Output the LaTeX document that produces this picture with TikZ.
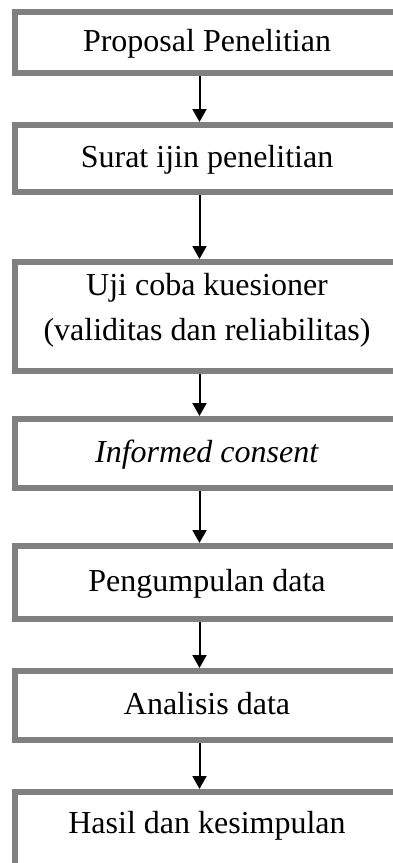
\documentclass[tikz,border=0pt]{standalone}
\usepackage{fontspec}
\setmainfont{Liberation Serif}
\usetikzlibrary{positioning,arrows.meta}
\definecolor{boxgray}{RGB}{128,128,128}

\tikzset{
  stepbox/.style={draw=boxgray, line width=6pt, minimum width=384pt, inner sep=0pt,
    font=\fontsize{32}{45}\selectfont, text height=22pt, text depth=5pt},
  twoline/.style={align=center, text height=, text depth=19pt},
  flowarrow/.style={line width=2pt, -{Triangle[width=14pt,length=13pt]}}
}

\begin{document}
\begin{tikzpicture}[x=1pt,y=1pt]
    \useasboundingbox (0,0) rectangle (392,-863);

    % Boxes
    \node[stepbox, minimum height=61pt] (proposal) at (207,-42.5) {Proposal Penelitian\hspace{18pt}};
    \node[stepbox, minimum height=67pt, below=46pt of proposal] (ijin) {Surat ijin penelitian};
    \node[stepbox, twoline, minimum height=109pt, below=64pt of ijin] (ujicoba) {Uji coba kuesioner\\(validitas dan reliabilitas)};
    \node[stepbox, minimum height=69pt, below=42pt of ujicoba] (consent) {\textit{Informed consent}};
    \node[stepbox, minimum height=73pt, below=52pt of consent] (kumpul) {Pengumpulan data};
    \node[stepbox, minimum height=69pt, below=46pt of kumpul] (analisis) {Analisis data};
    \node[stepbox, minimum height=90pt, text depth=30pt, below=46pt of analisis] (hasil) {Hasil dan kesimpulan};

    % Arrows
    \foreach \from/\to in {proposal/ijin, ijin/ujicoba, ujicoba/consent, consent/kumpul, kumpul/analisis, analisis/hasil}
        \draw[flowarrow] ([xshift=-7.5pt]\from.south) -- ([xshift=-7.5pt]\to.north);
\end{tikzpicture}
\end{document}
